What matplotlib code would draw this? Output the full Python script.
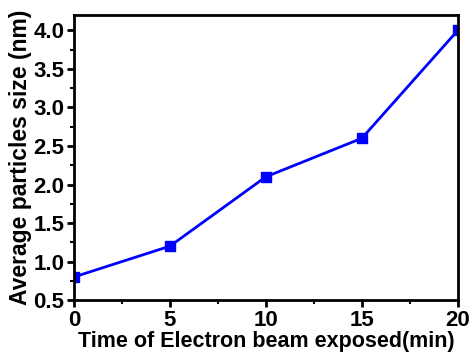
import matplotlib
matplotlib.use("Agg")
import matplotlib.pyplot as plt
from matplotlib.ticker import MultipleLocator

plt.rcParams['font.family'] = ['Liberation Sans', 'DejaVu Sans']
plt.rcParams['font.weight'] = 'bold'

time_min = [0, 5, 10, 15, 20]
size_nm = [0.8, 1.2, 2.1, 2.6, 4.0]

fig = plt.figure(figsize=(4.71, 3.56), dpi=100)
ax = fig.add_axes([0.157, 0.157, 0.815, 0.801])

ax.plot(time_min, size_nm, color='#0000ff', lw=2, marker='s', ms=7,
        markeredgecolor='#0000ff')

ax.set_xlim(0, 20)
ax.set_ylim(0.5, 4.2)
ax.xaxis.set_major_locator(MultipleLocator(5))
ax.xaxis.set_minor_locator(MultipleLocator(2.5))
ax.yaxis.set_major_locator(MultipleLocator(0.5))
ax.yaxis.set_minor_locator(MultipleLocator(0.25))
ax.yaxis.set_major_formatter(plt.FormatStrFormatter('%.1f'))

for s in ax.spines.values():
    s.set_linewidth(2)
ax.tick_params(which='major', direction='out', length=5, width=2, labelsize=16, pad=2)
ax.tick_params(which='minor', direction='out', length=3, width=1.5)
ax.tick_params(top=False, right=False, which='both')

ax.set_xlabel('Time of Electron beam exposed(min)', fontsize=15.5, fontweight='bold', labelpad=0)
ax.set_ylabel('Average particles size (nm)', fontsize=16.5, fontweight='bold', labelpad=1)

fig.savefig('out.png', dpi=100)
